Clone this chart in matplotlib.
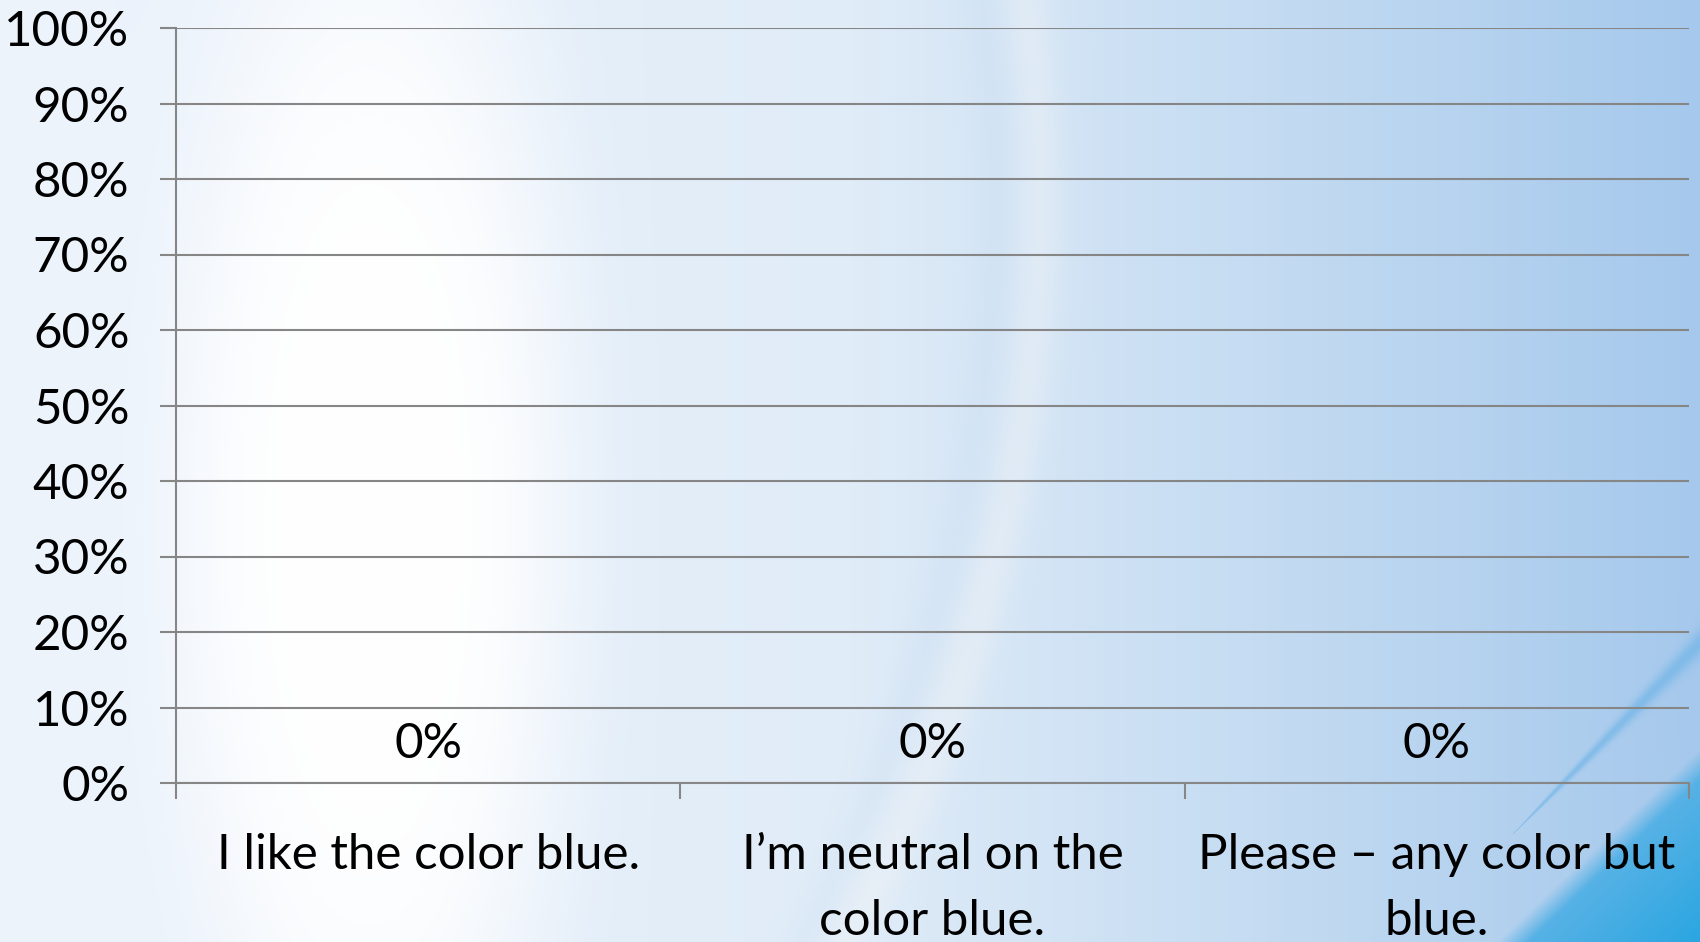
import numpy as np
import matplotlib
matplotlib.use("Agg")
import matplotlib.pyplot as plt

categories = ["I like the color blue.", "I\u2019m neutral on the\ncolor blue.", "Please \u2013 any color but\nblue."]
values = [0, 0, 0]
yticks = [0, 10, 20, 30, 40, 50, 60, 70, 80, 90, 100]
ytick_labels = [f"{v}%" for v in yticks]

W, H = 1700, 942
plt.rcParams['font.family'] = ['Lato', 'DejaVu Sans']
FS = 35.5

# background gradient
yy, xx = np.mgrid[0:H, 0:W].astype(float)
t = xx / W
c0 = np.array([238, 244, 252]); c1 = np.array([224, 236, 248]); c2 = np.array([192, 217, 241]); c3 = np.array([165, 200, 236])
def lerp(a, b, s):
    return a[None, None, :] * (1 - s[..., None]) + b[None, None, :] * s[..., None]
img = np.where((t < 0.5)[..., None], lerp(c0, c1, np.clip(t / 0.5, 0, 1)),
               np.where((t < 0.78)[..., None], lerp(c1, c2, np.clip((t - 0.5) / 0.28, 0, 1)),
                        lerp(c2, c3, np.clip((t - 0.78) / 0.22, 0, 1))))
# white glow left
g = np.exp(-(((xx - 370) / 200) ** 2 + ((yy - 520) / 650) ** 2) ** 2)
img = img * (1 - g[..., None]) + 255 * g[..., None]
# curved darker band then bright band
cx = 1040 - 0.00035 * (yy - 200) ** 2
dark = np.exp(-((xx - (cx - 45)) / 22) ** 2) * 0.10
img = img * (1 - dark[..., None]) + np.array([170, 200, 230])[None, None, :] * dark[..., None]
band = np.exp(-((xx - cx) / 25) ** 2) * 0.35
img = img * (1 - band[..., None]) + 245 * band[..., None]
# diagonal stripe near bottom right
d2 = (xx - 1700) * 0.98 + (yy - 650) * 1.0
taper = np.clip((xx - 1510) / 190, 0, 1)
stripe = np.exp(-((d2 + 8 * taper) / (14 * taper + 1e-3)) ** 2) * 0.6 * (xx > 1510)
img = img * (1 - stripe[..., None]) + np.array([105, 178, 230])[None, None, :] * stripe[..., None]
# bottom right blue corner
d = (xx - 1700) * 0.95 + (yy - 942) * 1.0
s = np.clip((d + 194) / 30, 0, 1)
depth = np.clip((d + 194) / 200, 0, 1)
blue = lerp(np.array([95, 180, 230]), np.array([40, 165, 225]), depth)
img = img * (1 - s[..., None]) + blue * s[..., None]
img = np.clip(img, 0, 255).astype(np.uint8)

fig = plt.figure(figsize=(W / 100, H / 100), dpi=100)
bg = fig.add_axes([0, 0, 1, 1], zorder=0)
bg.imshow(img, aspect='auto', extent=[0, W, H, 0])
bg.axis('off')

ax = fig.add_axes([176 / W, 1 - 783 / H, (1689 - 176) / W, (783 - 28) / H], zorder=1)
ax.patch.set_alpha(0)
x = np.arange(len(categories))
ax.bar(x, values, width=0.6, color='#4472C4')
ax.set_xlim(-0.5, len(categories) - 0.5)
ax.set_ylim(0, 100)
ax.set_yticks(yticks)
ax.set_yticklabels(ytick_labels, fontsize=FS)
ax.yaxis.grid(True, color='#868686', linewidth=1.5)
ax.set_axisbelow(True)
for sp in ['top', 'right']:
    ax.spines[sp].set_visible(False)
ax.spines['left'].set_color('#868686')
ax.spines['bottom'].set_color('#868686')
ax.spines['left'].set_linewidth(1.5)
ax.spines['bottom'].set_linewidth(1.5)
ax.tick_params(axis='y', length=11.5, width=1.5, color='#868686', pad=22, labelcolor='black')
ax.set_xticks(x)
ax.set_xticklabels(categories, fontsize=FS, linespacing=1.6)
ax.tick_params(axis='x', which='major', length=0, pad=36)
ax.set_xticks(np.arange(-0.5, len(categories)), minor=True)
ax.tick_params(axis='x', which='minor', length=11.5, width=1.5, color='#868686')

for xi, v in zip(x, values):
    ax.annotate(f"{v}%", (xi, v), xytext=(0, 28), textcoords='offset points',
                ha='center', va='center', fontsize=FS)

fig.savefig("out.png", dpi=100)
